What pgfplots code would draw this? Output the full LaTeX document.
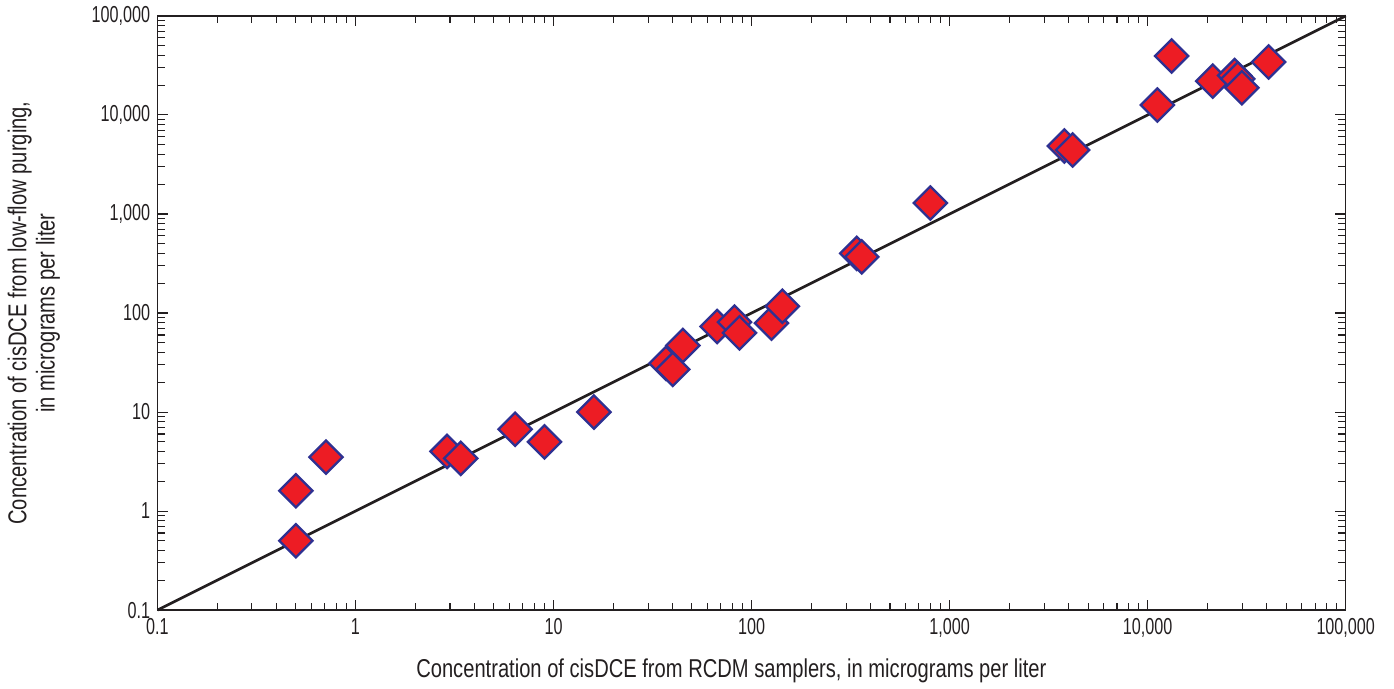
\documentclass[border=0pt]{standalone}
\usepackage{fontspec}
\setmainfont{Liberation Sans}[FakeStretch=0.78]
\newfontfamily\tickfont{Liberation Sans}[FakeStretch=0.7]
\usepackage{pgfplots}
\pgfplotsset{compat=1.18}
\usetikzlibrary{calc}

\definecolor{markred}{RGB}{237,28,36}
\definecolor{marknavy}{RGB}{46,49,146}
\definecolor{lineblk}{RGB}{35,31,32}

\begin{document}
\begin{tikzpicture}
\begin{axis}[
    name=ax,
    at={(0,0)}, anchor=south west,
    scale only axis,
    width=566pt, height=283pt,
    xmode=log, ymode=log,
    xmin=0.1, xmax=100000,
    ymin=0.1, ymax=100000,
    xtick={0.1,1,10,100,1000,10000,100000},
    ytick={0.1,1,10,100,1000,10000,100000},
    xticklabels={0.1,1,10,100,{1,000},{10,000},{100,000}},
    yticklabels={0.1,1,10,100,{1,000},{10,000},{100,000}},
    /pgf/number format/assume math mode=true,
    tick align=inside,
    major tick length=5pt,
    minor tick length=3.5pt,
    every tick/.style={lineblk, line width=0.5pt},
    axis line style={lineblk, line width=0.7pt},
    tick label style={font=\tickfont\fontsize{11}{13}\selectfont, text=lineblk},
    xticklabel style={yshift=-0.5pt},
    label style={font=\fontsize{12.3}{13.5}\selectfont, text=lineblk},
    xlabel={Concentration of cisDCE from RCDM samplers, in micrograms per liter},
    ylabel={Concentration of cisDCE from low-flow purging,\\in micrograms per liter},
    xlabel style={at={(axis description cs:0.483,-0.103)}, anchor=center},
    ylabel style={at={(axis description cs:-0.104,0.5)}, anchor=center, align=center},
    clip=false,
]

\addplot[only marks, mark=square*, mark size=5.6pt,
    mark options={rotate=45, fill=markred, draw=marknavy, line width=1.1pt}]
    coordinates {
    (0.5,1.6) (0.5,0.5) (0.71,3.5) (2.9,4.0) (3.4,3.4)
    (6.4,6.7) (9.0,5.0) (16,10)
    (37,31) (40,27) (45,47)
    (67,73) (82,81) (87,63) (126,79) (143,117)
    (340,400) (360,368) (800,1290)
    (3800,4860) (4180,4430)
    (11200,12600) (13200,39400) (21300,22000)
    (27500,25000) (28500,23100) (29900,18800) (40800,34300)
    };

\addplot[lineblk, line width=1.3pt, no marks]
    coordinates {(0.1,0.1) (100000,100000)};

\end{axis}
\pgfresetboundingbox
\path[use as bounding box] ($(ax.south west)+(-75pt,-37.5pt)$) rectangle ($(ax.north east)+(23pt,7.6pt)$);
\end{tikzpicture}
\end{document}
